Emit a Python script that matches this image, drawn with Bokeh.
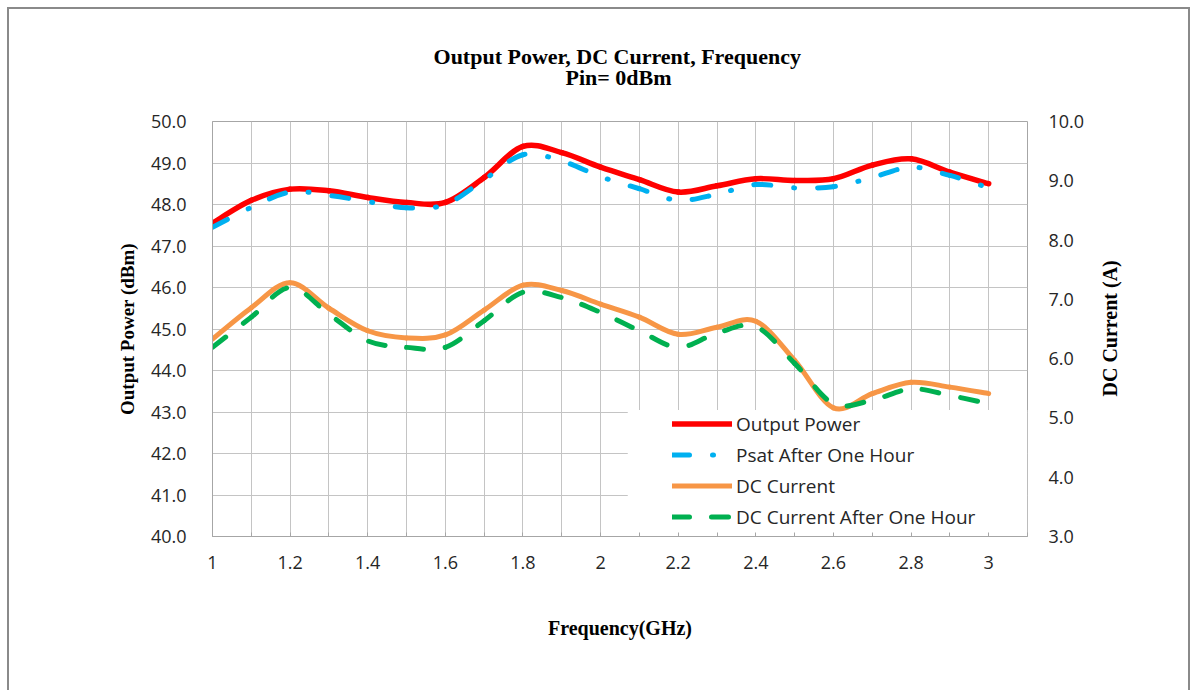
import numpy as np
from bokeh.plotting import figure
from bokeh.models import (Range1d, LinearAxis, FixedTicker, Legend, LegendItem,
                          BoxAnnotation, ColumnDataSource, PrintfTickFormatter)
from bokeh.embed import file_html
from bokeh.resources import INLINE

# ---------------- data ----------------
freq = [1.0, 1.1, 1.2, 1.3, 1.4, 1.5, 1.6, 1.7, 1.8, 1.9, 2.0,
        2.1, 2.2, 2.3, 2.4, 2.5, 2.6, 2.7, 2.8, 2.9, 3.0]
output_power = [47.55, 48.10, 48.37, 48.33, 48.17, 48.05, 48.05, 48.65, 49.40, 49.25, 48.90,
                48.60, 48.30, 48.45, 48.62, 48.58, 48.62, 48.95, 49.10, 48.78, 48.50]
psat_after_hour = [47.45, 47.93, 48.30, 48.22, 48.07, 47.92, 48.00, 48.60, 49.20, 49.05, 48.67,
                   48.38, 48.10, 48.25, 48.48, 48.40, 48.43, 48.65, 48.90, 48.70, 48.40]
dc_current = [6.33, 6.86, 7.28, 6.85, 6.47, 6.35, 6.40, 6.82, 7.24, 7.15, 6.92,
              6.70, 6.41, 6.53, 6.63, 5.97, 5.17, 5.41, 5.60, 5.52, 5.41]
dc_current_after_hour = [6.19, 6.70, 7.20, 6.75, 6.30, 6.19, 6.19, 6.64, 7.12, 7.03, 6.78,
                         6.47, 6.19, 6.43, 6.54, 5.92, 5.24, 5.30, 5.49, 5.38, 5.24]

power_ticks = [40, 41, 42, 43, 44, 45, 46, 47, 48, 49, 50]
current_ticks = [3, 4, 5, 6, 7, 8, 9, 10]
freq_label_ticks = [1.0, 1.2, 1.4, 1.6, 1.8, 2.0, 2.2, 2.4, 2.6, 2.8, 3.0]
freq_grid_ticks = [1.1, 1.3, 1.5, 1.7, 1.9, 2.1, 2.3, 2.5, 2.7, 2.9, 3.1]

title_line1 = "Output Power, DC Current,  Frequency"
title_line2 = "Pin= 0dBm"
right_label_text = "DC Current (A)"

# ---------------- layout ----------------
W, H = 1183, 683
ML, MR, MT, MB = 203, 165, 112, 156
FRAME_W = W - ML - MR
FRAME_H = H - MT - MB
X0, X1 = 1.0, 3.1
P0, P1 = 40.0, 50.0
C0, C1 = 3.0, 10.0

FONT = "Open Sans"
SERIF = "Liberation Serif"
TXT = "#262626"
GRID = "#c4c4c4"
FRAME = "#a6a6a6"
NBSP = "\u00a0"

p = figure(width=W, height=H, x_range=Range1d(X0, X1), y_range=Range1d(P0, P1),
           output_backend="svg", toolbar_location=None,
           min_border_left=ML, min_border_right=MR, min_border_top=MT, min_border_bottom=MB,
           background_fill_color="white", border_fill_color="white")
p.styles = {"margin-left": "7px", "margin-top": "7px",
            "border-left": "2px solid #8a8a8a", "border-top": "2px solid #8a8a8a",
            "border-right": "2px solid #8a8a8a"}
p.extra_y_ranges = {"dc": Range1d(C0, C1)}
p.outline_line_color = FRAME
p.outline_line_width = 1

# two-line title; the second line is centred with non-breaking spaces
p.title.text = title_line1 + "\n" + NBSP * 24 + title_line2
p.title.align = "center"
p.title.text_font = SERIF
p.title.text_font_size = "22px"
p.title.text_font_style = "bold"
p.title.text_color = "black"
p.title.text_line_height = 0.85
p.title.standoff = 63

# x axis
xa = p.xaxis[0]
xa.ticker = FixedTicker(ticks=freq_label_ticks, minor_ticks=freq_grid_ticks)
xa.major_label_overrides = {1: "1", 3: "3"}
xa.major_label_text_font = FONT
xa.major_label_text_font_size = "18px"
xa.major_label_text_color = TXT
xa.major_label_standoff = 19
xa.axis_line_color = FRAME
xa.major_tick_in = 4
xa.major_tick_out = 0
xa.minor_tick_in = 4
xa.minor_tick_out = 0
xa.major_tick_line_color = FRAME
xa.minor_tick_line_color = FRAME
xa.axis_label = "Frequency(GHz)"
xa.axis_label_text_font = SERIF
xa.axis_label_text_font_size = "20px"
xa.axis_label_text_font_style = "bold"
xa.axis_label_text_color = "black"
xa.axis_label_standoff = 45

# left axis
ya = p.yaxis[0]
ya.ticker = FixedTicker(ticks=power_ticks)
ya.formatter = PrintfTickFormatter(format="%.1f")
ya.major_label_text_font = FONT
ya.major_label_text_font_size = "18px"
ya.major_label_text_color = TXT
ya.major_tick_in = 0
ya.major_tick_out = 0
ya.minor_tick_in = 0
ya.minor_tick_out = 0
ya.major_label_standoff = 26
ya.axis_line_color = FRAME
ya.major_tick_line_color = None
ya.minor_tick_line_color = None
ya.axis_label = "Output Power (dBm)"
ya.axis_label_text_font = SERIF
ya.axis_label_text_font_size = "19px"
ya.axis_label_text_font_style = "bold"
ya.axis_label_text_color = "black"
ya.axis_label_standoff = 10

# right axis
ra = LinearAxis(y_range_name="dc", ticker=FixedTicker(ticks=current_ticks),
                formatter=PrintfTickFormatter(format="%.1f"))
ra.major_label_text_font = FONT
ra.major_label_text_font_size = "18px"
ra.major_label_text_color = TXT
ra.major_tick_in = 0
ra.major_tick_out = 0
ra.minor_tick_in = 0
ra.minor_tick_out = 0
ra.major_label_standoff = 21
ra.axis_line_color = None
ra.major_tick_line_color = None
ra.minor_tick_line_color = None
ra.axis_label_text_font = SERIF
ra.axis_label_text_font_size = "20px"
ra.axis_label_text_font_style = "bold"
ra.axis_label_text_color = "black"
ra.axis_label_standoff = 23
# read bottom-to-top; the label starts at the bottom of the axis and is lifted
# to the middle with leading non-breaking spaces
label_pad = ""
try:
    ra.axis_label_orientation = float(np.pi / 2)
    ra.axis_label_align = "start"
    label_pad = NBSP * 28
except Exception:
    pass
ra.axis_label = label_pad + right_label_text
p.add_layout(ra, "right")

# grids
p.xgrid.grid_line_color = GRID
p.xgrid.minor_grid_line_color = GRID
p.ygrid.grid_line_color = GRID

# white backdrop for the legend area (covers grid lines like the original)
legend_box = BoxAnnotation(left=2.07, right=3.1, bottom=40.0, top=43.05,
                           fill_color="white", fill_alpha=1.0, line_color=None,
                           level="underlay")
p.add_layout(legend_box)


# ---------------- smoothed (Excel-like) curves ----------------
def smooth_source(xs, ys, px_x, px_y):
    x = np.asarray(xs, dtype=float)
    y = np.asarray(ys, dtype=float)
    qx = np.concatenate([[x[0]], x, [x[-1]]])
    qy = np.concatenate([[y[0]], y, [y[-1]]])
    n = len(x)
    i = np.arange(n - 1)
    c1x = qx[i + 1] + (qx[i + 2] - qx[i]) / 6.0
    c1y = qy[i + 1] + (qy[i + 2] - qy[i]) / 6.0
    c2x = qx[i + 2] - (qx[i + 3] - qx[i + 1]) / 6.0
    c2y = qy[i + 2] - (qy[i + 3] - qy[i + 1]) / 6.0
    x0, y0, x1, y1 = x[:-1], y[:-1], x[1:], y[1:]
    # screen length of each segment -> continuous dash pattern
    t = np.linspace(0, 1, 25)[:, None]
    bx = ((1 - t) ** 3) * x0 + 3 * ((1 - t) ** 2) * t * c1x + 3 * (1 - t) * t * t * c2x + t ** 3 * x1
    by = ((1 - t) ** 3) * y0 + 3 * ((1 - t) ** 2) * t * c1y + 3 * (1 - t) * t * t * c2y + t ** 3 * y1
    seg = np.sqrt((np.diff(bx, axis=0) * px_x) ** 2 + (np.diff(by, axis=0) * px_y) ** 2).sum(axis=0)
    off = np.concatenate([[0.0], np.cumsum(seg)[:-1]])
    return ColumnDataSource(dict(x0=x0, y0=y0, x1=x1, y1=y1, cx0=c1x, cy0=c1y,
                                 cx1=c2x, cy1=c2y, off=np.round(off).astype(int)))


pxx = FRAME_W / (X1 - X0)
pxp = FRAME_H / (P1 - P0)
pxc = FRAME_H / (C1 - C0)

src_power = smooth_source(freq, output_power, pxx, pxp)
src_psat = smooth_source(freq, psat_after_hour, pxx, pxp)
src_dc = smooth_source(freq, dc_current, pxx, pxc)
src_dch = smooth_source(freq, dc_current_after_hour, pxx, pxc)

bz = dict(x0="x0", y0="y0", x1="x1", y1="y1", cx0="cx0", cy0="cy0", cx1="cx1", cy1="cy1")

r_power = p.bezier(source=src_power, line_color="#ff0000", line_width=5.5, line_cap="round", **bz)
r_psat = p.bezier(source=src_psat, line_color="#00b0f0", line_width=5, line_cap="round",
                  line_dash="17 23 1 23", line_dash_offset="off", **bz)
r_dc = p.bezier(source=src_dc, y_range_name="dc", line_color="#f79646", line_width=5,
                line_cap="round", **bz)
r_dch = p.bezier(source=src_dch, y_range_name="dc", line_color="#00b050", line_width=5,
                 line_cap="round", line_dash="17 22", line_dash_offset="off", **bz)

legend = Legend(items=[LegendItem(label="Output Power", renderers=[r_power]),
                       LegendItem(label="Psat After One Hour", renderers=[r_psat]),
                       LegendItem(label="DC Current", renderers=[r_dc]),
                       LegendItem(label="DC Current After One Hour", renderers=[r_dch])],
                location=(460, 4), padding=0, spacing=0, margin=0,
                glyph_width=60, glyph_height=31, label_height=31, label_standoff=4,
                label_text_font=FONT, label_text_font_size="19px", label_text_color=TXT,
                background_fill_alpha=0, border_line_alpha=0)
p.add_layout(legend)

open("out.html", "w").write(file_html(p, INLINE))
